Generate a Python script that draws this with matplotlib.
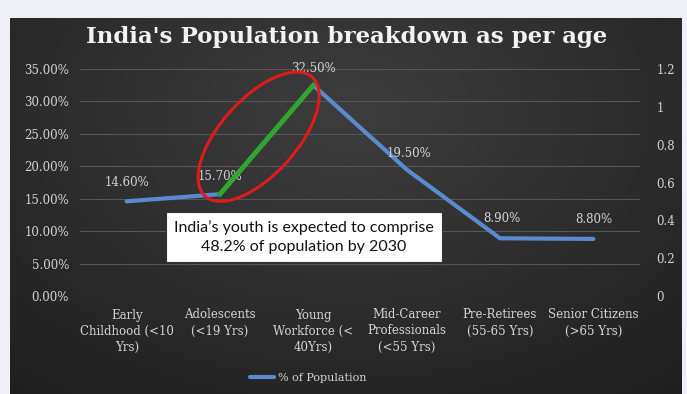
import numpy as np
import matplotlib.pyplot as plt
from matplotlib.patches import Ellipse
from matplotlib.transforms import IdentityTransform
from matplotlib.colors import to_rgb

# Data
categories = ['Early\nChildhood (<10\nYrs)', 'Adolescents\n(<19 Yrs)', 'Young\nWorkforce (<\n40Yrs)',
              'Mid-Career\nProfessionals\n(<55 Yrs)', 'Pre-Retirees\n(55-65 Yrs)', 'Senior Citizens\n(>65 Yrs)']
population = [0.146, 0.157, 0.325, 0.195, 0.089, 0.088]
point_labels = ['14.60%', '15.70%', '32.50%', '19.50%', '8.90%', '8.80%']
left_ticks = [0, 0.05, 0.10, 0.15, 0.20, 0.25, 0.30, 0.35]
right_ticks = [0, 0.2, 0.4, 0.6, 0.8, 1.0, 1.2]
right_tick_labels = ['0', '0.2', '0.4', '0.6', '0.8', '1', '1.2']

W, H = 687, 394
fig = plt.figure(figsize=(W / 100, H / 100), dpi=100)
fig.patch.set_facecolor('#eef0f6')

# dark panel with a soft radial gradient
bg = fig.add_axes([10 / W, 0, 672 / W, (H - 18) / H])
yy, xx = np.mgrid[-1:1:200j, -1:1:300j]
r = np.sqrt((xx * 0.85) ** 2 + ((yy + 0.5) * 0.7) ** 2)
r = np.clip(r / r.max(), 0, 1)[..., None]
centre_c, edge_c = np.array(to_rgb('#3d3d3d')), np.array(to_rgb('#1f1f1f'))
bg.imshow(centre_c * (1 - r) + edge_c * r, aspect='auto', extent=[0, 1, 0, 1])
bg.set_axis_off()

serif = 'DejaVu Serif'
txt = '#d4d4d4'

ax = fig.add_axes([80 / W, (H - 296) / H, 560 / W, (296 - 69) / H])
ax.patch.set_alpha(0)
x = np.arange(len(categories))
ax.set_xlim(-0.5, len(categories) - 0.5)
ax.set_ylim(0, 0.35)
for t in left_ticks:
    ax.axhline(t, color='#565656', lw=0.8, zorder=0)
line, = ax.plot(x, population, color='#5a8ad0', lw=3, solid_capstyle='round', zorder=3)
ax.plot(x[1:3], population[1:3], color='#2fa62f', lw=3.5, zorder=4)

offsets = [(0, 0.029), (0, 0.027), (0, 0.026), (0.03, 0.024), (0.02, 0.030), (0, 0.030)]
for xi, yi, lab, (dx, dy) in zip(x, population, point_labels, offsets):
    ax.text(xi + dx, yi + dy, lab, ha='center', va='center', color=txt, fontsize=8.5, family=serif)

ax.set_yticks(left_ticks)
ax.set_yticklabels([f'{t * 100:.2f}%' for t in left_ticks])
ax.set_xticks(x)
ax.set_xticklabels(categories)
ax.tick_params(length=0, colors=txt, labelsize=8.5)
ax.tick_params(axis='y', pad=8)
ax.tick_params(axis='x', pad=9)
for lbl in ax.get_xticklabels() + ax.get_yticklabels():
    lbl.set_family(serif)
    lbl.set_linespacing(1.3)
for s in ax.spines.values():
    s.set_visible(False)

ax2 = ax.twinx()
ax2.set_ylim(0, 1.2)
ax2.set_yticks(right_ticks)
ax2.set_yticklabels(right_tick_labels, family=serif)
ax2.tick_params(length=0, colors=txt, labelsize=8.5, pad=12)
for s in ax2.spines.values():
    s.set_visible(False)

fig.text(347 / W, 1 - 37 / H, "India's Population breakdown as per age", color='#f2f2f2',
         fontsize=16.5, fontweight='bold', family=serif, ha='center', va='center')

# legend
ax.legend([line], ['% of Population'], loc='center',
          bbox_to_anchor=(308 / W, 1 - 378 / H), bbox_transform=fig.transFigure, frameon=False,
          prop={'family': serif, 'size': 8}, labelcolor=txt, handlelength=2.2, handletextpad=0.3)

# highlight the youth segment
fig.canvas.draw()
p1 = ax.transData.transform((x[1], population[1]))
p2 = ax.transData.transform((x[2], population[2]))
mid = (p1 + p2) / 2 + np.array([-8, 3])
ax.add_patch(Ellipse(mid, 160, 76, angle=48, transform=IdentityTransform(),
                     fill=False, ec='#e01b1b', lw=2.2, zorder=5))

ax.text(1.90, 0.091, "India\u2019s youth is expected to comprise\n48.2% of population by 2030",
        ha='center', va='center', fontsize=11.5, family='Lato', color='#111111', linespacing=1.4,
        zorder=6, bbox=dict(boxstyle='square,pad=0.5', fc='white', ec='#333333', lw=0.8))

fig.savefig('out.png', dpi=100)
